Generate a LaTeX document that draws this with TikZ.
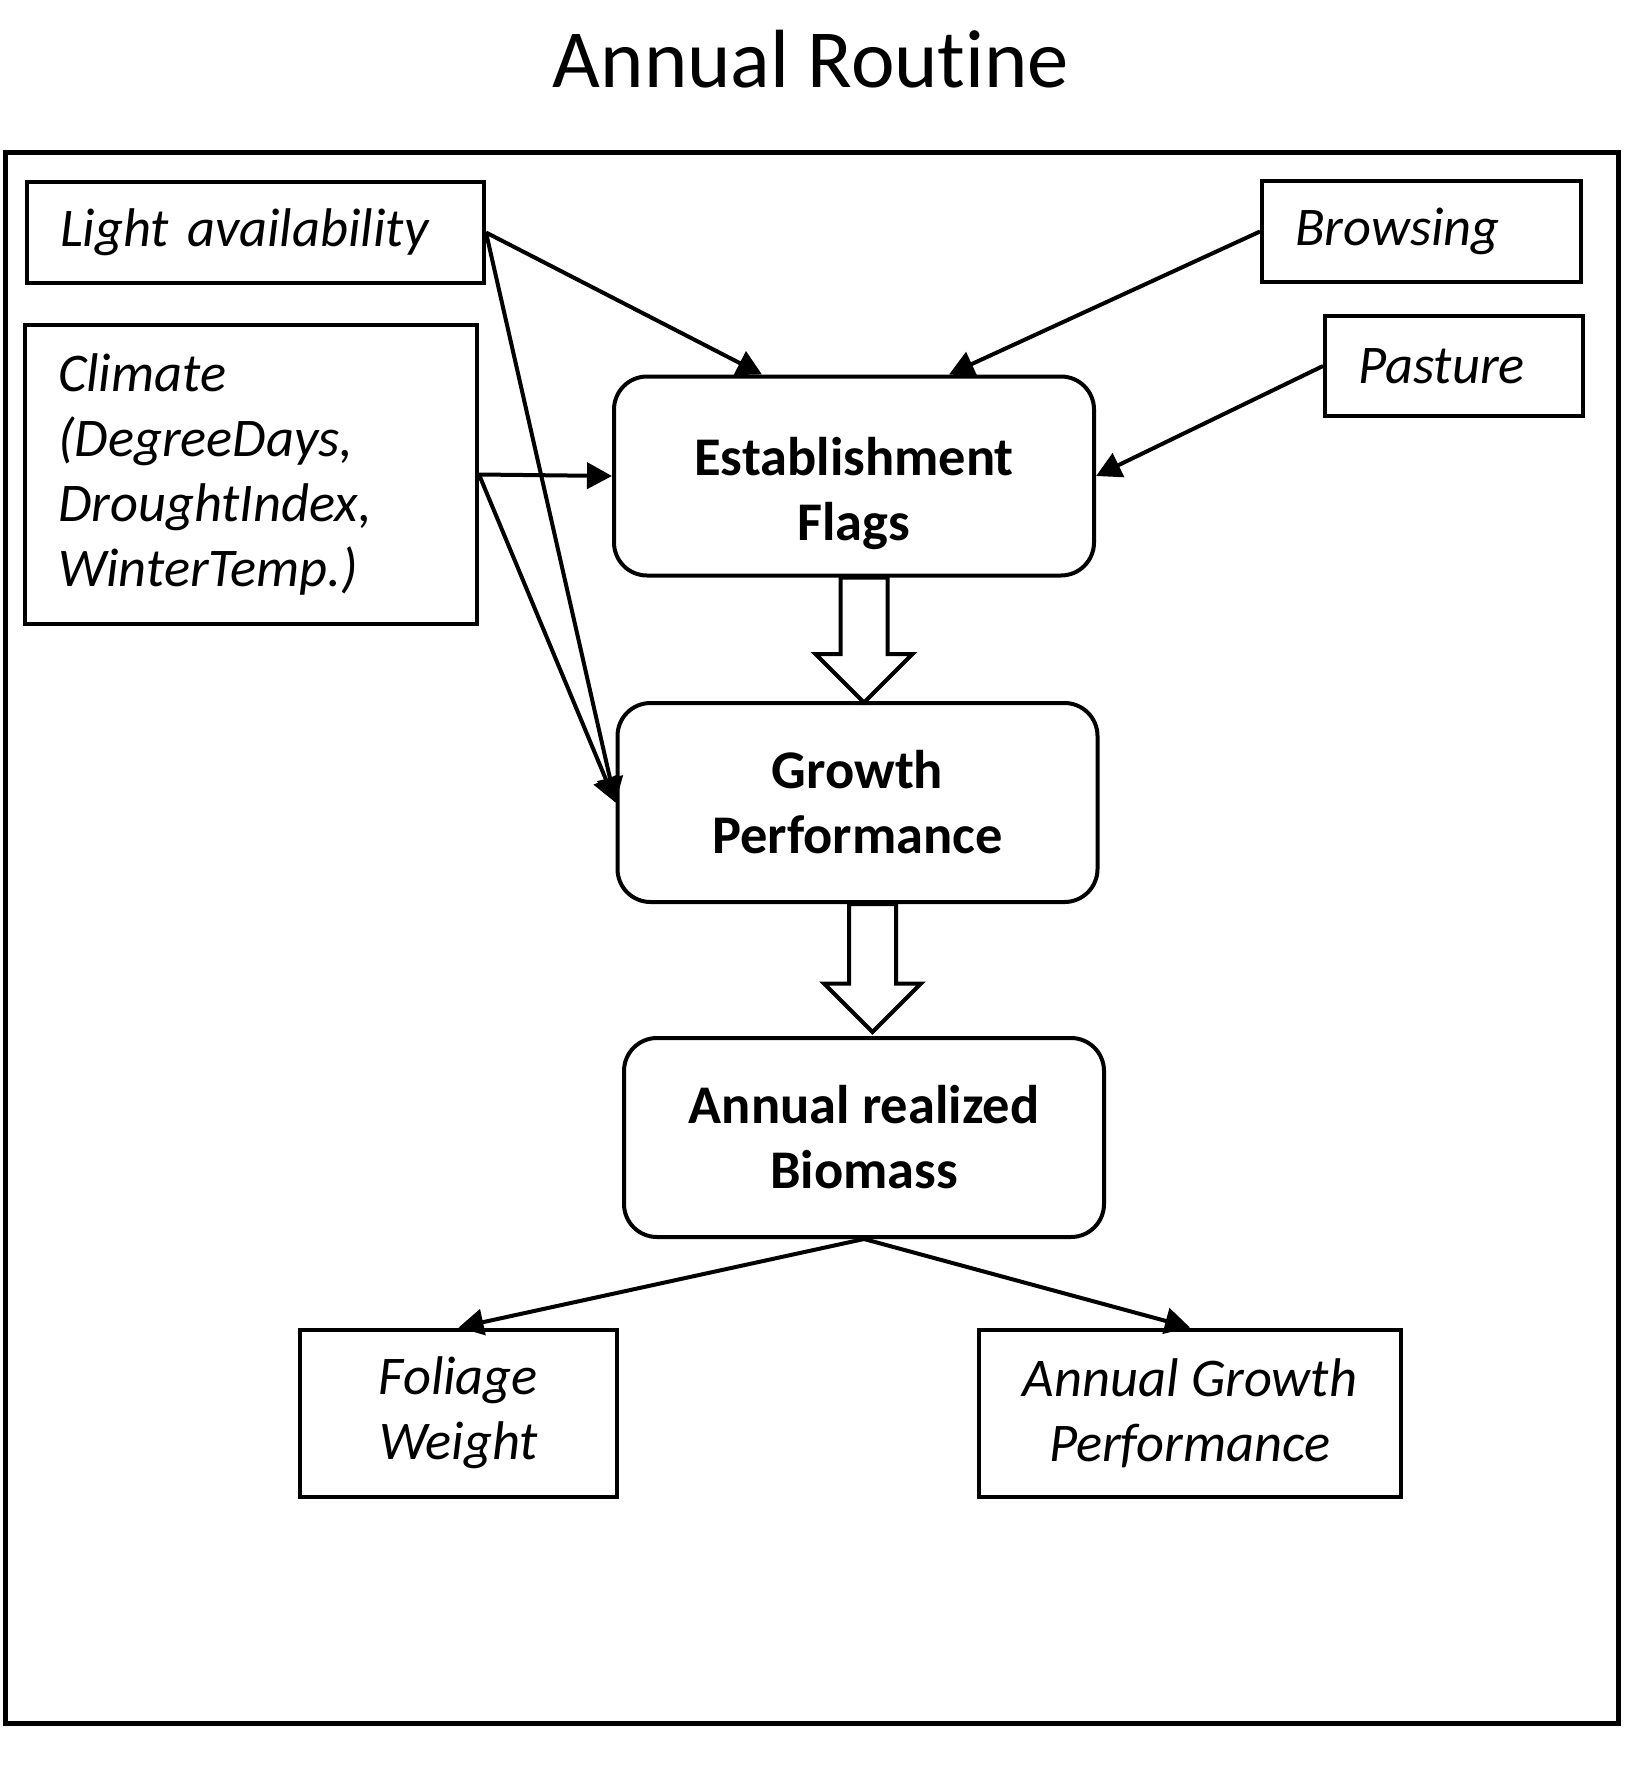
\documentclass[tikz,border=0pt]{standalone}
\usepackage{fontspec}
\setmainfont{Carlito}[Ligatures=NoCommon]
\usepackage{tikz}
\usetikzlibrary{arrows.meta,shapes.arrows}

\begin{document}
\begin{tikzpicture}[>={Triangle[length=0.5cm,width=0.52cm]}]
    % Define styles
    \tikzstyle{input} = [rectangle, draw, line width=0.08cm, font=\fontsize{31}{37}\selectfont\itshape, align=left, inner xsep=0.66cm, inner ysep=0cm]
    \tikzstyle{output} = [rectangle, draw, line width=0.08cm, font=\fontsize{31}{37}\selectfont\itshape, align=center, inner sep=0cm]
    \tikzstyle{process} = [rectangle, rounded corners=0.66cm, draw, line width=0.08cm, font=\fontsize{31}{37}\selectfont\bfseries, align=center, minimum width=9.6cm, minimum height=3.98cm]
    \tikzstyle{arrow} = [line width=0.08cm, ->]
    \tikzstyle{bigarrow} = [single arrow, draw, line width=0.08cm, shape border rotate=270, single arrow head extend=0.5cm, inner xsep=0.43cm, inner ysep=0cm, outer sep=0cm, anchor=tail]

    \useasboundingbox (0,0) rectangle (32.64,-35.48);
    \draw[line width=0.1cm] (0.12,-3.06) rectangle (32.36,-34.46);
    \node[font=\fontsize{47}{56}\selectfont, anchor=base] (title) at (16.22,-1.76) {Annual Routine};

    % Nodes
    \node[input, text width=7.82cm, minimum height=2.02cm] (light) at (5.11,-4.65) {Light availability};
    \node[input, text width=7.72cm, minimum height=5.98cm] (climate) at (5.02,-9.49) {Climate\\(DegreeDays,\\DroughtIndex,\\WinterTemp.)};
    \node[input, text width=5.06cm, minimum height=2.02cm] (browsing) at (28.43,-4.63) {Browsing};
    \node[input, text width=3.84cm, minimum height=2cm] (pasture) at (29.08,-7.32) {Pasture};
    \node[process] (flags) at (17.08,-9.52) {\rule{0pt}{1.46cm}Establishment\\Flags};
    \node[process, node distance=6.53cm] (growth) [below of=flags, xshift=0.07cm] {Growth\\Performance};
    \node[process, node distance=6.53cm] (biomass) [below of=growth, xshift=0.13cm, yshift=-0.17cm] {Annual realized\\Biomass};
    \node[output, minimum width=6.34cm, minimum height=3.34cm] (foliage) at (9.17,-28.26) {Foliage\\Weight};
    \node[output, minimum width=8.44cm, minimum height=3.34cm] (agp) at (23.8,-28.26) {Annual Growth\\Performance};

    % Block arrows
    \node[bigarrow, minimum height=2.5cm] (down1) at ([xshift=0.2cm]flags.south) {};
    \node[bigarrow, minimum height=2.56cm] (down2) at ([xshift=0.3cm]growth.south) {};

    % Arrows
    \draw[arrow] (light.east) -- ([xshift=-1.84cm]flags.north);
    \draw[arrow] (light.east) -- (growth.west);
    \draw[arrow] (climate.east) -- (flags.west);
    \draw[arrow] (climate.east) -- (growth.west);
    \draw[arrow] (browsing.west) -- ([xshift=1.9cm]flags.north);
    \draw[arrow] (pasture.west) -- (flags.east);
    \draw[arrow] (biomass.south) -- (foliage.north);
    \draw[arrow] (biomass.south) -- (agp.north);
\end{tikzpicture}
\end{document}
